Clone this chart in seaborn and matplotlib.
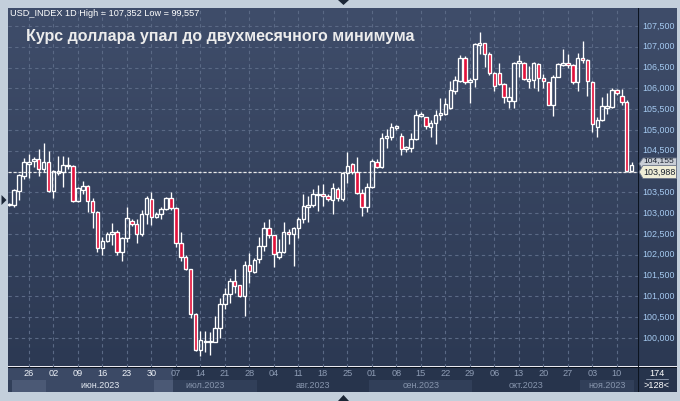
import numpy as np
import pandas as pd
import matplotlib
matplotlib.use("Agg")
import matplotlib.pyplot as plt
import seaborn as sns
from matplotlib.patches import Rectangle, Polygon
from matplotlib.colors import LinearSegmentedColormap

# ---------------- data ----------------
opens = [103.20, 103.20, 103.54, 103.90, 104.19, 104.26, 104.29, 104.05, 104.22, 103.54,
         103.97, 104.00, 104.13, 104.13, 103.30, 103.56, 103.65, 103.29, 103.02, 102.15,
         102.33, 102.50, 102.54, 102.07, 102.39, 102.81, 102.75, 102.49, 102.99, 103.33,
         102.91, 102.97, 103.09, 103.36, 103.12, 102.29, 101.94, 101.65, 100.57, 99.72,
         99.91, 99.90, 99.91, 100.25, 100.81, 101.05, 101.37, 101.26, 101.01, 101.75,
         101.59, 101.89, 102.21, 102.63, 102.47, 101.94, 102.07, 102.55, 102.50, 102.63,
         102.85, 103.14, 103.19, 103.44, 103.44, 103.41, 103.31, 103.59, 103.34, 103.97,
         104.18, 103.99, 103.48, 103.15, 103.62, 104.22, 104.10, 104.80, 104.84, 105.06,
         104.85, 104.53, 104.57, 104.78, 105.34, 105.30, 105.08, 105.16, 105.37, 105.38,
         105.52, 105.94, 106.18, 106.72, 106.14, 106.22, 107.04, 107.08, 106.82, 106.36,
         106.36, 106.10, 105.70, 105.70, 106.60, 106.62, 106.18, 106.20, 106.58, 106.24,
         106.14, 105.61, 106.28, 106.56, 106.62, 106.56, 106.14, 106.74, 106.68, 106.16,
         105.06, 105.25, 105.54, 105.54, 105.96, 105.82, 105.68, 104.02]
highs = [103.24, 103.58, 103.95, 104.32, 104.42, 104.34, 104.53, 104.69, 104.50, 104.04,
         104.37, 104.37, 104.34, 104.16, 103.62, 103.77, 103.68, 103.36, 103.05, 102.42,
         102.55, 102.77, 102.60, 102.42, 103.14, 102.87, 102.85, 103.07, 103.41, 103.51,
         103.03, 103.15, 103.38, 103.51, 103.14, 102.55, 102.00, 101.66, 100.59, 100.17,
         100.17, 100.13, 100.53, 100.97, 101.19, 101.43, 101.66, 101.27, 101.86, 102.03,
         101.91, 102.43, 102.79, 102.86, 102.48, 102.38, 102.79, 102.61, 102.67, 102.91,
         103.46, 103.40, 103.57, 103.68, 103.70, 103.45, 103.72, 103.63, 103.99, 104.46,
         104.20, 104.36, 103.59, 103.72, 104.29, 104.29, 104.92, 105.01, 105.16, 105.12,
         104.92, 104.61, 104.92, 105.48, 105.42, 105.31, 105.24, 105.48, 105.77, 105.76,
         106.18, 106.30, 106.80, 106.78, 106.24, 107.08, 107.352, 107.10, 106.88, 106.38,
         106.62, 106.12, 106.04, 106.64, 106.80, 106.64, 106.54, 106.64, 106.60, 106.34,
         106.16, 106.32, 106.62, 106.94, 106.82, 106.58, 106.86, 107.14, 106.70, 106.18,
         105.30, 105.78, 105.88, 106.00, 105.98, 105.98, 105.72, 104.24]
lows = [103.18, 103.15, 103.31, 103.81, 103.84, 104.10, 103.88, 104.00, 103.51, 103.37,
        103.92, 103.63, 104.05, 103.27, 103.27, 103.45, 103.03, 102.63, 102.07, 101.99,
        102.30, 102.23, 102.00, 101.86, 102.31, 102.70, 102.29, 102.45, 102.74, 102.71,
        102.88, 102.87, 103.07, 103.07, 102.19, 101.86, 101.63, 100.49, 99.69, 99.557,
        99.67, 99.58, 99.89, 99.99, 100.69, 100.85, 101.09, 100.98, 100.53, 101.31,
        101.55, 101.81, 102.10, 102.40, 101.71, 101.90, 102.03, 102.26, 101.74, 102.39,
        102.76, 102.79, 103.15, 103.04, 103.17, 103.30, 102.98, 103.29, 103.30, 103.73,
        103.95, 103.46, 102.93, 103.03, 103.60, 104.09, 104.08, 104.56, 104.76, 105.00,
        104.40, 104.48, 104.48, 104.75, 105.30, 105.01, 104.82, 104.66, 105.24, 105.36,
        105.50, 105.86, 106.15, 106.10, 105.65, 106.04, 106.82, 106.52, 106.32, 105.94,
        106.08, 105.64, 105.53, 105.53, 106.28, 106.20, 106.00, 106.00, 105.94, 106.00,
        105.60, 105.34, 106.26, 106.54, 106.50, 106.10, 105.94, 106.62, 105.82, 104.96,
        104.84, 105.22, 105.38, 105.52, 105.85, 105.60, 103.98, 104.00]
closes = [103.22, 103.56, 103.92, 104.22, 104.22, 104.29, 104.05, 104.22, 103.54, 104.02,
          104.02, 104.16, 104.16, 103.30, 103.60, 103.65, 103.29, 103.02, 102.15, 102.33,
          102.49, 102.54, 102.07, 102.39, 102.89, 102.75, 102.49, 102.99, 103.36, 102.90,
          102.97, 103.09, 103.36, 103.12, 102.29, 101.94, 101.65, 100.57, 99.71, 99.96,
          99.93, 99.93, 100.25, 100.81, 101.06, 101.37, 101.25, 101.01, 101.75, 101.62,
          101.87, 102.21, 102.63, 102.47, 102.01, 102.07, 102.54, 102.50, 102.63, 102.87,
          103.17, 103.19, 103.46, 103.46, 103.42, 103.34, 103.61, 103.36, 103.97, 104.13,
          103.99, 103.48, 103.15, 103.62, 104.26, 104.10, 104.80, 104.85, 105.06, 105.09,
          104.53, 104.58, 104.78, 105.36, 105.37, 105.09, 105.16, 105.37, 105.40, 105.62,
          105.96, 106.20, 106.72, 106.14, 106.20, 107.06, 107.08, 106.82, 106.36, 106.06,
          106.10, 105.78, 105.78, 106.60, 106.66, 106.22, 106.22, 106.60, 106.24, 106.18,
          105.61, 106.28, 106.58, 106.62, 106.56, 106.14, 106.74, 106.68, 106.18, 105.13,
          105.25, 105.57, 105.57, 105.96, 105.88, 105.68, 104.01, 104.16]

dates = pd.bdate_range("2023-05-22", "2023-11-15")
price_ticks = [100.0, 100.5, 101.0, 101.5, 102.0, 102.5, 103.0, 103.5,
               104.0, 104.5, 105.0, 105.5, 106.0, 106.5, 107.0, 107.5]
last_price = 103.988
bid_price = 104.155
month_names = {6: "июн.2023", 7: "июл.2023", 8: "авг.2023",
               9: "сен.2023", 10: "окт.2023", 11: "ноя.2023"}
title_info = "USD_INDEX 1D High = 107,352 Low = 99,557"
title_main = "Курс доллара упал до двухмесячного минимума"
bars_total = "174"
bars_visible = ">128<"

# ---------------- style ----------------
sns.set_theme(style="dark")
plt.rcParams["font.family"] = ["Liberation Sans", "DejaVu Sans"]

W, H = 680, 401
fig = plt.figure(figsize=(6.8, 4.01), dpi=100, facecolor="#c3cfdb")

def fb(x0, y0, x1, y1):
    return [x0 / W, 1 - y1 / H, (x1 - x0) / W, (y1 - y0) / H]

PL, PR, PT, PB = 7.5, 637.5, 7.5, 366.5
x_of = lambda px: (px - 9.3) / 4.9
xlim = (x_of(PL), x_of(PR))
ylim = (103.5 - (PB - 192.3) / 41.6, 103.5 - (PT - 192.3) / 41.6)

bg = LinearSegmentedColormap.from_list("bg", ["#3f4d6a", "#2c3953"])

ax = fig.add_axes(fb(PL, PT, PR, PB))
ax.imshow(np.linspace(0, 1, 256).reshape(-1, 1), cmap=bg, extent=(0, 1, 0, 1),
          transform=ax.transAxes, aspect="auto", zorder=0)
ax.set_xlim(*xlim)
ax.set_ylim(*ylim)
ax.set_xticks([])
ax.set_yticks([])
for s in ax.spines.values():
    s.set_visible(False)

n = len(opens)
fridays = [i for i in range(n) if dates[i].dayofweek == 4]

grid_c = "#5a6985"
for v in price_ticks:
    ax.axhline(v, color=grid_c, lw=0.8, ls=(0, (3, 3)), zorder=1)
for i in fridays:
    ax.axvline(i, color=grid_c, lw=0.8, ls=(0, (3, 3)), zorder=1)

ax.axhline(last_price, color="#e8e8e8", lw=0.9, ls=(0, (2.5, 1.5)), zorder=2)

bw = 0.72
for i in range(n):
    o, h, l, c = opens[i], highs[i], lows[i], closes[i]
    top, bot = max(o, c), min(o, c)
    if top - bot < 0.035:
        mid = (top + bot) / 2
        top, bot = mid + 0.0175, mid - 0.0175
    up = c >= o
    ax.vlines(i, top, max(h, top), color="white", lw=0.95, zorder=3)
    ax.vlines(i, min(l, bot), bot, color="white", lw=0.95, zorder=3)
    ax.add_patch(Rectangle((i - bw / 2, bot), bw, top - bot,
                           facecolor="none" if up else "#e3123c",
                           edgecolor="white", lw=0.95, zorder=4))

fig.text(10 / W, 1 - 13.5 / H, title_info, color="white", fontsize=6.6,
         ha="left", va="center")
fig.text(26 / W, 1 - 36 / H, title_main, color="#ececec", fontsize=11.5,
         fontweight="bold", ha="left", va="center")

# ---------------- right price axis ----------------
axr = fig.add_axes(fb(PR, PT, 676.5, PB))
axr.imshow(np.linspace(0, 1, 256).reshape(-1, 1), cmap=bg, extent=(0, 1, 0, 1),
           transform=axr.transAxes, aspect="auto", zorder=0)
axr.set_xlim(0, 1)
axr.set_ylim(*ylim)
axr.set_xticks([])
axr.set_yticks([])
for s in axr.spines.values():
    s.set_visible(False)
axr.axvline(0, color="#0c1420", lw=1.5)
for v in price_ticks:
    if abs(v - 104.0) < 1e-6:
        continue
    axr.text(0.12, v, f"{v:.3f}".replace(".", ","), color="#a6cbf2",
             fontsize=6.4, ha="left", va="center", zorder=2)

def tag(y, hgt, face, txt, z, ty=None, fs=6.4):
    pts = [(0.04, y), (0.14, y + hgt / 2), (1.0, y + hgt / 2),
           (1.0, y - hgt / 2), (0.14, y - hgt / 2)]
    axr.add_patch(Polygon(pts, closed=True, facecolor=face, edgecolor="#6a7488",
                          lw=0.6, zorder=z))
    axr.text(0.16, y if ty is None else ty, txt, color="#18202e", fontsize=fs,
             ha="left", va="center", zorder=z + 0.5)

tag(bid_price + 0.03, 0.28, "#c9ced6", f"{bid_price:.3f}".replace(".", ","), 3,
    ty=bid_price + 0.1, fs=6.0)
tag(last_price, 0.31, "#efedd6", f"{last_price:.3f}".replace(".", ","), 5)

# ---------------- date axis ----------------
DB = 392.0
axd = fig.add_axes(fb(PL, PB, PR, DB))
axd.set_xlim(*xlim)
axd.set_ylim(0, 1)
axd.set_xticks([])
axd.set_yticks([])
axd.set_facecolor("#27344c")
for s in axd.spines.values():
    s.set_visible(False)
split = 12.0 / (DB - PB)
hl_end = x_of(173)
axd.add_patch(Rectangle((xlim[0], 0), hl_end - xlim[0], 1, facecolor="#3b4965",
                        edgecolor="none", zorder=1))
months = np.array([d.month for d in dates])
for m in sorted(set(months)):
    idx = np.where(months == m)[0]
    a, b = idx[0] - 0.5, idx[-1] + 0.5
    if m % 2 == 1:
        axd.add_patch(Rectangle((a, 0), b - a, split, facecolor="#313f59",
                                edgecolor="none", zorder=1.5))
        a2, b2 = max(a, xlim[0] + 1.0), min(b, hl_end)
        if b2 > a2:
            axd.add_patch(Rectangle((a2, 0), b2 - a2, split, facecolor="#4b5975",
                                    edgecolor="none", zorder=1.6))
    if m in month_names:
        axd.text(idx.mean(), split / 2 + 0.02, month_names[m],
                 color="#e4eaf2" if m == 6 else "#8795ad", fontsize=6.5,
                 ha="center", va="center", zorder=3)
axd.axhline(1, color="#0c1420", lw=1.5, zorder=4)
for i in fridays:
    axd.text(i, split + (1 - split) / 2, dates[i].strftime("%d"),
             color="#eef2f8" if i < hl_end - 1 else "#8e9cb4", fontsize=6.6,
             ha="center", va="center", zorder=3)

axc = fig.add_axes(fb(PR, PB, 676.5, DB))
axc.set_facecolor("#27344c")
axc.set_xticks([])
axc.set_yticks([])
axc.set_xlim(0, 1)
axc.set_ylim(0, 1)
for s in axc.spines.values():
    s.set_visible(False)
axc.axvline(0, color="#0c1420", lw=1.5)
axc.axhline(1, color="#0c1420", lw=1.5)
axc.text(0.5, 0.72, bars_total, color="white", fontsize=6.6, ha="center", va="center")
axc.plot([0.22, 0.78], [0.5, 0.5], color="#8a96aa", lw=0.7)
axc.text(0.5, 0.26, bars_visible, color="white", fontsize=6.6, ha="center", va="center")

# ---------------- frame markers ----------------
fig.patches.append(Polygon([(338 / W, 1.0), (349 / W, 1.0), (343.5 / W, 1 - 5 / H)],
                           closed=True, transform=fig.transFigure,
                           facecolor="#1b2636", edgecolor="none", zorder=5))
fig.patches.append(Polygon([(338 / W, 0.0), (349 / W, 0.0), (343.5 / W, 6 / H)],
                           closed=True, transform=fig.transFigure,
                           facecolor="#1b2636", edgecolor="none", zorder=5))
fig.patches.append(Polygon([(1.5 / W, 1 - 195 / H), (1.5 / W, 1 - 205 / H), (6.5 / W, 1 - 200 / H)],
                           closed=True, transform=fig.transFigure,
                           facecolor="#1b2636", edgecolor="none", zorder=5))

fig.savefig("out.png", dpi=100, facecolor=fig.get_facecolor())
